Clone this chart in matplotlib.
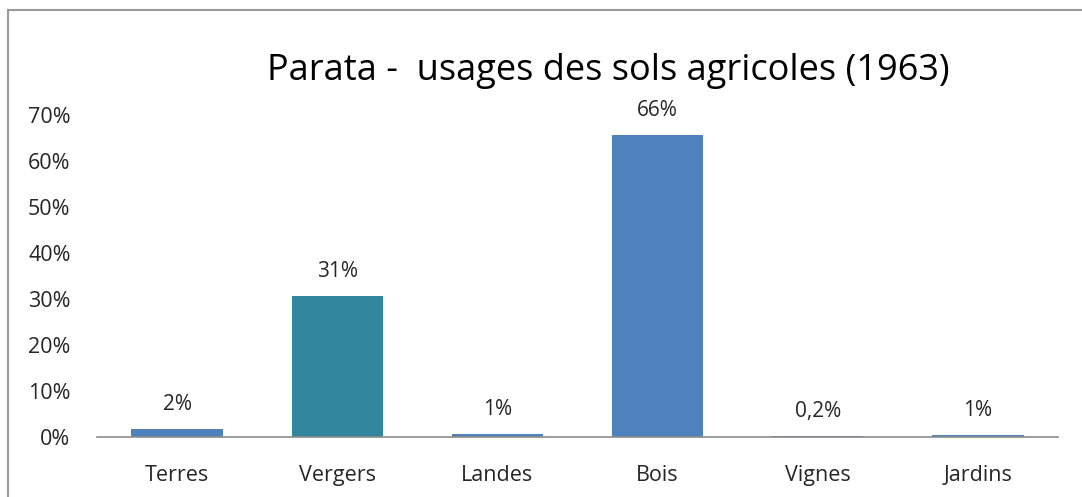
import matplotlib
matplotlib.use("Agg")
import matplotlib.pyplot as plt
from matplotlib.patches import Rectangle

categories = ["Terres", "Vergers", "Landes", "Bois", "Vignes", "Jardins"]
values = [0.017, 0.306, 0.007, 0.656, 0.002, 0.005]
labels = ["2%", "31%", "1%", "66%", "0,2%", "1%"]
colors = ["#4F81BD", "#31859C", "#4F81BD", "#4F81BD", "#4F81BD", "#4F81BD"]
yticks = [0, 0.1, 0.2, 0.3, 0.4, 0.5, 0.6, 0.7]
yticklabels = ["0%", "10%", "20%", "30%", "40%", "50%", "60%", "70%"]

plt.rcParams['font.family'] = ['Open Sans', 'DejaVu Sans']

W, H = 1082, 497
fig = plt.figure(figsize=(W / 100, H / 100), dpi=100)
ax = fig.add_axes([97 / W, 1 - 437 / H, (1058 - 97) / W, (437 - 115) / H])

x = range(len(categories))
ax.bar(x, values, width=0.57, color=colors)
for xi, v, lab in zip(x, values, labels):
    ax.annotate(lab, (xi, v), xytext=(0, 10), textcoords="offset points",
                ha="center", va="bottom", fontsize=15, color="#262626")

ax.set_xlim(-0.5, len(categories) - 0.5)
ax.set_ylim(0, 0.7)
ax.set_yticks(yticks)
ax.set_yticklabels(yticklabels, fontsize=15.5, color="#262626")
ax.set_xticks(list(x))
ax.set_xticklabels(categories, fontsize=15.5, color="#262626")
ax.tick_params(axis="y", length=0, pad=19)
ax.tick_params(axis="x", length=0, pad=20)
for s in ["top", "right", "left"]:
    ax.spines[s].set_visible(False)
ax.spines["bottom"].set_color("#8c8c8c")
ax.spines["bottom"].set_linewidth(1.2)

fig.text(608 / W, 1 - 71 / H, "Parata -  usages des sols agricoles (1963)",
         ha="center", va="center", fontsize=26, color="black")

fig.patches.append(Rectangle((8 / W, -0.1), 1.2, 1 - 10 / H + 0.1,
                             transform=fig.transFigure, fill=False,
                             edgecolor="#999999", linewidth=1.5))

fig.savefig("out.png", dpi=100)
